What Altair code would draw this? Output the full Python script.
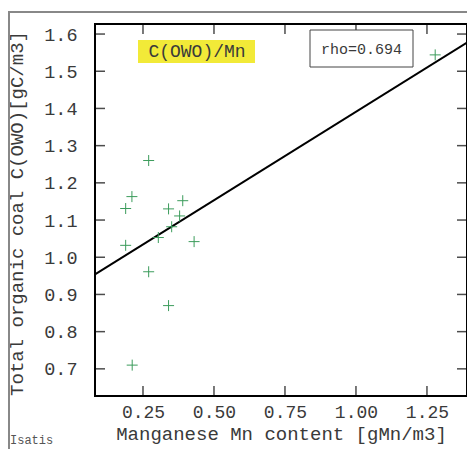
import altair as alt
import pandas as pd

# Scatter data
mn = [0.27, 0.211, 0.189, 0.34, 0.39, 0.379, 0.351, 0.304, 0.189, 0.43, 0.27, 0.34, 0.212, 1.279]
c_owo = [1.26, 1.163, 1.131, 1.13, 1.152, 1.111, 1.082, 1.053, 1.032, 1.042, 0.961, 0.870, 0.710, 1.544]

# Regression line endpoints
line_x = [0.081, 1.391]
line_y = [0.954, 1.577]

x_ticks = [0.25, 0.5, 0.75, 1.0, 1.25]
y_ticks = [0.7, 0.8, 0.9, 1.0, 1.1, 1.2, 1.3, 1.4, 1.5, 1.6]

x_domain = [0.081, 1.391]
y_domain = [0.627, 1.627]

FONT = "Courier New, Liberation Mono, monospace"
W, H = 372, 372

pts = pd.DataFrame({"x": mn, "y": c_owo})
ln = pd.DataFrame({"x": line_x, "y": line_y})
xt = pd.DataFrame({"v": x_ticks})
yt = pd.DataFrame({"v": y_ticks})
one = pd.DataFrame({"a": [0]})

xs = alt.Scale(domain=x_domain, nice=False, zero=False)
ys = alt.Scale(domain=y_domain, nice=False, zero=False)

x_axis = alt.Axis(values=x_ticks, format=".2f", ticks=False, domain=False, grid=False,
                  labelPadding=7, labelFont=FONT, labelFontSize=18, labelColor="#3a3a3a",
                  title="Manganese Mn content [gMn/m3]", titleFont=FONT, titleFontSize=19,
                  titleFontWeight="normal", titleColor="#3a3a3a", titleY=43, titleBaseline="alphabetic")
y_axis = alt.Axis(values=y_ticks, format=".1f", ticks=False, domain=False, grid=False,
                  labelPadding=18, labelFont=FONT, labelFontSize=18.5, labelColor="#3a3a3a",
                  title="Total organic coal C(OWO)[gC/m3]", titleFont=FONT, titleFontSize=19,
                  titleFontWeight="normal", titleColor="#3a3a3a", titleX=-79, titleY=189,
                  titleBaseline="middle")

points = alt.Chart(pts).mark_point(
    shape="M-1,0L1,0M0,-1L0,1", filled=False, color="#3c9c5c", strokeWidth=1, size=121, opacity=1
).encode(x=alt.X("x:Q", scale=xs, axis=x_axis), y=alt.Y("y:Q", scale=ys, axis=y_axis))

reg = alt.Chart(ln).mark_line(color="black", strokeWidth=2).encode(
    x=alt.X("x:Q", scale=xs), y=alt.Y("y:Q", scale=ys))

yt_left = alt.Chart(yt).mark_tick(orient="horizontal", color="black", thickness=1.5, size=10).encode(
    y=alt.Y("v:Q", scale=ys), x=alt.value(5))
yt_right = alt.Chart(yt).mark_tick(orient="horizontal", color="black", thickness=1.5, size=10).encode(
    y=alt.Y("v:Q", scale=ys), x=alt.value(W - 5))
xt_bot = alt.Chart(xt).mark_tick(orient="vertical", color="black", thickness=1.5, size=10).encode(
    x=alt.X("v:Q", scale=xs), y=alt.value(H - 5))
xt_top = alt.Chart(xt).mark_tick(orient="vertical", color="black", thickness=1.5, size=10).encode(
    x=alt.X("v:Q", scale=xs), y=alt.value(5))

# annotation boxes
ybox = alt.Chart(one).mark_rect(color="#f2ea38").encode(
    x=alt.value(43), x2=alt.value(160), y=alt.value(16), y2=alt.value(39))
ytext = alt.Chart(one).mark_text(text="C(OWO)/Mn", font=FONT, fontSize=18, color="#3a3a3a",
                                 align="center", baseline="middle").encode(
    x=alt.value(102), y=alt.value(28))
rbox = alt.Chart(one).mark_rect(fill="white", stroke="#444", strokeWidth=1).encode(
    x=alt.value(215), x2=alt.value(318), y=alt.value(6), y2=alt.value(43))
rtext = alt.Chart(one).mark_text(text="rho=0.694", font=FONT, fontSize=15, color="#3a3a3a",
                                 align="center", baseline="middle").encode(
    x=alt.value(266.5), y=alt.value(25))

# outer frame and logo
frame_top = alt.Chart(one).mark_rule(color="#888", strokeWidth=2).encode(
    x=alt.value(-86), x2=alt.value(380), y=alt.value(-12))
frame_left = alt.Chart(one).mark_rule(color="#888", strokeWidth=2).encode(
    x=alt.value(-86), y=alt.value(-13), y2=alt.value(430))
logo = alt.Chart(one).mark_text(text="Isatis", font=FONT, fontSize=12, color="#555",
                                align="left", baseline="alphabetic").encode(
    x=alt.value(-85), y=alt.value(420))

chart = alt.layer(
    frame_top, frame_left, logo, reg, points, yt_left, yt_right, xt_bot, xt_top,
    ybox, ytext, rbox, rtext
).properties(
    width=W, height=H,
    autosize=alt.AutoSizeParams(type="none"),
    padding={"left": 87, "top": 16, "right": 0, "bottom": 53},
    background="white",
).configure_view(stroke="black", strokeWidth=2)

chart.save("out.html", embed_options={"renderer": "svg", "actions": False})
